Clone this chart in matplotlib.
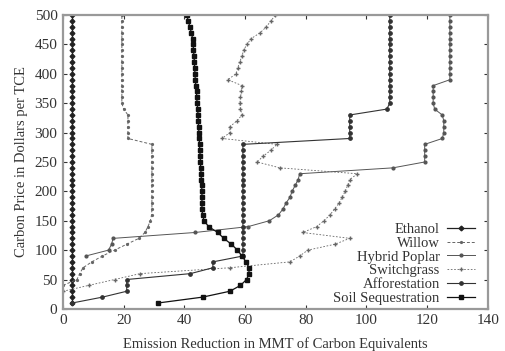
import numpy as np
import matplotlib
matplotlib.use("Agg")
import matplotlib.pyplot as plt

plt.rcParams['font.family'] = ['Liberation Serif', 'DejaVu Serif']

prices = np.arange(10, 510, 10)
nan = np.nan

ethanol = [3.0] * 50

willow = [nan, nan, nan, 0.0, 4.6, 5.5, 6.6, 9.5, 13, 17,
          21, 25, 27, 28, 28.8, 29.2, 29.3, 29.3, 29.3, 29.3,
          29.3, 29.3, 29.3, 29.3, 29.3, 29.3, 29.3, 29.3, 21.4, 21.4,
          21.4, 21.4, 21.4, 20.0, 19.4, 19.4, 19.4, 19.4, 19.4, 19.4,
          19.4, 19.4, 19.4, 19.4, 19.4, 19.4, 19.4, 19.4, 19.4, 19.4]

hybrid_poplar = [nan, nan, nan, nan, nan, nan, nan, nan, 7.5, 15,
                 16, 16.5, 43.5, 61, 68, 71, 72.5, 73.5, 74.8, 75.5,
                 76.5, 77.5, 78, 108.7, 119.2, 119.2, 119.2, 119.2, 125, 125.5,
                 125.5, 125.5, 125, 122.5, 122, 122, 122, 122, 127.5, 127.5,
                 127.5, 127.5, 127.5, 127.5, 127.5, 127.5, 127.5, 127.5, 127.5, 127.5]

switchgrass = [nan, nan, 0.0, 8.5, 17, 25.4, 55, 74.8, 78, 80.7,
               89.6, 94.5, 79, 83.6, 86, 88, 89.5, 91, 92, 93,
               93.8, 94.5, 97, 71.5, 64, 66, 68.5, 70.5, 52.4, 55,
               55, 57.3, 59, 58.5, 58.3, 58.5, 58.8, 59, 54.3, 57,
               57.6, 58.2, 59, 59.5, 60.6, 62, 65, 67, 68.5, 70]

afforestation = [3, 13, 21, 21, 21, 42, 49.4, 49.4, 59.3, 59.3,
                 59.3, 59.3, 59.3, 59.3, 59.3, 59.3, 59.3, 59.3, 59.3, 59.3,
                 59.3, 59.3, 59.3, 59.3, 59.3, 59.3, 59.3, 59.3, 94.5, 94.5,
                 94.5, 94.5, 94.5, 106.7, 107.7, 107.7, 107.7, 107.7, 107.7, 107.7,
                 107.7, 107.7, 107.7, 107.7, 107.7, 107.7, 107.7, 107.7, 107.7, 107.7]

soil = [31.3, 46, 55, 58.5, 60.5, 61.3, 61.3, 60.3, 59, 57.5,
        55.5, 53, 51, 48, 46.5, 46, 45.8, 45.8, 45.8, 45.8,
        45.7, 45.6, 45.5, 45.4, 45.3, 45.2, 45.1, 45.0, 44.9, 44.8,
        44.7, 44.6, 44.5, 44.4, 44.2, 44.1, 44.0, 43.8, 43.6, 43.5,
        43.4, 43.3, 43.2, 43.0, 42.9, 42.7, 42.3, 41.8, 41.3, 40.8]

series = [
    ("Ethanol", ethanol, dict(ls='-', marker='D', ms=2.4, lw=0.9, color='#222222')),
    ("Willow", willow, dict(ls=(0, (3, 2)), marker='.', ms=2.6, lw=0.7, color='#666666')),
    ("Hybrid Poplar", hybrid_poplar, dict(ls='-', marker='o', ms=2.0, lw=0.7, color='#555555')),
    ("Switchgrass", switchgrass, dict(ls=(0, (2, 2)), marker='+', ms=2.8, lw=0.6, color='#666666')),
    ("Afforestation", afforestation, dict(ls='-', marker='o', ms=2.4, lw=0.8, color='#333333')),
    ("Soil Sequestration", soil, dict(ls='-', marker='s', ms=2.8, lw=0.9, color='#111111')),
]

fig = plt.figure(figsize=(5.06, 3.51), dpi=100)
ax = fig.add_axes([0.1245, 0.12, 0.8395, 0.837])

for name, vals, style in series:
    ax.plot(np.array(vals, dtype=float), prices, label=name, **style)

ax.set_xlim(0, 140)
ax.set_ylim(0, 500)
ax.set_xticks(np.arange(0, 141, 20))
ax.set_yticks(np.arange(0, 501, 50))
ax.tick_params(direction='in', top=True, right=True, length=3, labelsize=11,
               colors='#333333', width=0.8, pad=4)
for s in ax.spines.values():
    s.set_color('#999999')
    s.set_linewidth(1.6)

ax.set_xlabel("Emission Reduction in MMT of Carbon Equivalents", fontsize=10.5,
              color='#333333', labelpad=7)
ax.set_ylabel("Carbon Price in Dollars per TCE", fontsize=10.5,
              color='#333333', labelpad=5)

leg = ax.legend(loc='lower right', bbox_to_anchor=(0.969, 0.012), frameon=False,
                markerfirst=False, fontsize=10.5, handlelength=1.9,
                handletextpad=0.5, labelspacing=0.05, borderaxespad=0.0,
                borderpad=0.0)
for t in leg.get_texts():
    t.set_color('#333333')

fig.savefig("out.png", dpi=100)
